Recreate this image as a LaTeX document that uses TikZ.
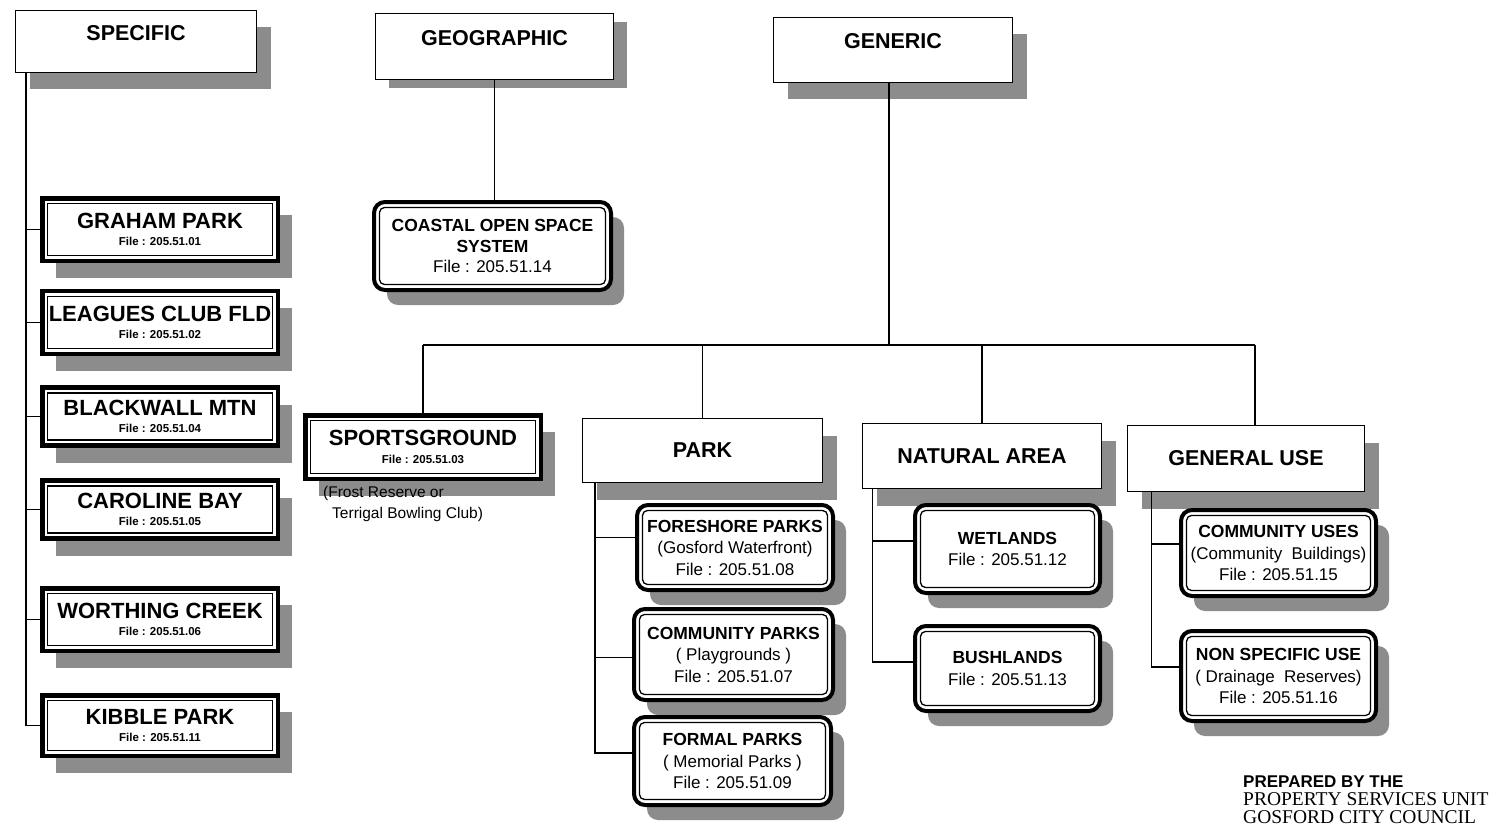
\documentclass[tikz,border=0pt]{standalone}
\usepackage{fontspec}
\usetikzlibrary{shadows,calc}
\newfontfamily\hv{Liberation Sans}
\newfontfamily\tms{Liberation Serif}
\definecolor{shadowgray}{gray}{0.55}
\tikzset{
  shd/.style={drop shadow={shadow xshift=14pt, shadow yshift=-17pt, fill=shadowgray, opacity=1}},
  shdgeo/.style={drop shadow={shadow xshift=13pt, shadow yshift=-9pt, fill=shadowgray, opacity=1}},
  shdr/.style={drop shadow={shadow xshift=13pt, shadow yshift=-15pt, fill=shadowgray, opacity=1}},
  hdr/.style={draw, line width=1.2pt, fill=white, inner sep=0pt,
    font=\hv\bfseries\fontsize{21.5}{24}\selectfont, text height=15.4pt, text depth=18pt},
  cat/.style={draw, line width=1.2pt, fill=white, inner sep=0pt, shd,
    font=\hv\bfseries\fontsize{21.5}{24}\selectfont},
  dbl/.style={draw, line width=4.5pt, fill=white, inner sep=0pt, align=center, shd,
    font=\hv\bfseries\fontsize{22}{17.5}\selectfont,
    path picture={\draw[line width=1.3pt]
      ([shift={(5.5pt,-5.5pt)}]path picture bounding box.north west) rectangle
      ([shift={(-5.5pt,5.5pt)}]path picture bounding box.south east);}},
  rnd/.style={draw, line width=4pt, rounded corners=11pt, fill=white, inner sep=0pt, align=center, shdr,
    font=\hv\fontsize{17}{21.5}\selectfont,
    path picture={\draw[line width=1.3pt, rounded corners=5pt]
      ([shift={(5.5pt,-5.5pt)}]path picture bounding box.north west) rectangle
      ([shift={(-5.5pt,5.5pt)}]path picture bounding box.south east);}},
  conn/.style={draw, line width=1.2pt},
}
\newcommand{\ttl}[1]{{\bfseries\fontsize{17.5}{21.5}\selectfont #1}}
\newcommand{\fileno}[1]{{\fontsize{11.5}{17.5}\selectfont File : #1}}
\begin{document}
\begin{tikzpicture}[x=1pt,y=-1pt]
\fill[white] (0,0) rectangle (1495,832);
\useasboundingbox (0,0) rectangle (1495,832);

% headers
\node[hdr, shd, minimum width=241pt, minimum height=62pt] (spec) at (136,41.5) {SPECIFIC};
\node[hdr, shdgeo, minimum width=238pt, minimum height=66pt] (geo) at (494.5,46.5) {GEOGRAPHIC};
\node[hdr, shd, minimum width=239pt, minimum height=65pt] (gen) at (893,50) {GENERIC};

% specific children
\node[dbl, minimum width=235.5pt, minimum height=62.5pt] (gp) at (160,229.5) {GRAHAM PARK\\\fileno{205.51.01}};
\node[dbl, minimum width=235.5pt, minimum height=63pt] (lc) at (160,322.5) {LEAGUES CLUB FLD\\\fileno{205.51.02}};
\node[dbl, minimum width=235.5pt, minimum height=58pt] (bw) at (160,416.5) {BLACKWALL MTN\\\fileno{205.51.04}};
\node[dbl, minimum width=235.5pt, minimum height=58pt] (cb) at (160,509.5) {CAROLINE BAY\\\fileno{205.51.05}};
\node[dbl, minimum width=235.5pt, minimum height=62.5pt] (wc) at (160,619.5) {WORTHING CREEK\\\fileno{205.51.06}};
\node[dbl, minimum width=235.5pt, minimum height=60.5pt] (kp) at (160,725.5) {KIBBLE PARK\\\fileno{205.51.11}};

% geographic child
\node[rnd, minimum width=237pt, minimum height=88pt] (coastal) at (492.5,246) {\ttl{COASTAL OPEN SPACE}\\[-1pt]\ttl{SYSTEM}\\[-1pt]File : 205.51.14};

% generic children
\node[dbl, minimum width=235.5pt, minimum height=63.5pt] (sg) at (423,447) {SPORTSGROUND\\\fileno{205.51.03}};
\node[cat, minimum width=240pt, minimum height=64pt] (park) at (702.5,450.5) {PARK};
\node[cat, minimum width=239pt, minimum height=65pt] (na) at (982,456) {NATURAL AREA};
\node[cat, minimum width=237pt, minimum height=66pt] (gu) at (1246,458.5) {GENERAL USE};

\node[anchor=north west, inner sep=0pt, align=left, font=\hv\fontsize{15.5}{21}\selectfont] (sgnote) at (323,486)
  {(Frost Reserve or\\\hspace*{9pt}Terrigal Bowling Club)};

% park children
\node[rnd, minimum width=196pt, minimum height=85pt] (fs) at (735,547.5) {\ttl{FORESHORE PARKS}\\(Gosford Waterfront)\\File : 205.51.08};
\node[rnd, minimum width=199pt, minimum height=91pt] (cp) at (733.5,654.5) {\ttl{COMMUNITY PARKS}\\( Playgrounds )\\File : 205.51.07};
\node[rnd, minimum width=197pt, minimum height=88pt] (fp) at (732.5,761) {\ttl{FORMAL PARKS}\\( Memorial Parks )\\File : 205.51.09};

% natural area children
\node[rnd, minimum width=185pt, minimum height=88pt] (wl) at (1007.5,549) {\ttl{WETLANDS}\\File : 205.51.12};
\node[rnd, minimum width=185pt, minimum height=85pt] (bl) at (1007.5,668.5) {\ttl{BUSHLANDS}\\File : 205.51.13};

% general use children
\node[rnd, minimum width=195pt, minimum height=86pt] (cu) at (1278.5,553) {\ttl{COMMUNITY USES}\\(Community\ \ Buildings)\\File : 205.51.15};
\node[rnd, minimum width=195pt, minimum height=90pt] (ns) at (1278.5,676) {\ttl{NON SPECIFIC USE}\\( Drainage\ \ Reserves)\\File : 205.51.16};

% credit
\node[anchor=north west, inner sep=0pt, align=left, font=\tms\fontsize{19.5}{18}\selectfont] (credit) at (1243,776)
  {{\hv\bfseries\fontsize{17}{18}\selectfont PREPARED BY THE}\\PROPERTY SERVICES UNIT\\GOSFORD CITY COUNCIL};

% connectors: specific
\draw[conn] ([xshift=11pt]spec.south west) coordinate (spt) |- (kp.west);
\foreach \n in {gp,lc,bw,cb,wc} \draw[conn] (spt |- \n.west) -- (\n.west);

% geographic
\draw[conn] (geo.south) -- (geo.south |- coastal.north);

% generic bus
\coordinate (busy) at (0,345);
\coordinate (gent) at ([xshift=-4pt]gen.south);
\coordinate (gut0) at ([xshift=9pt]gu.north);
\draw[conn] (gent) -- (gent |- busy);
\draw[conn] (sg.north |- busy) -- (gut0 |- busy);
\draw[conn] (sg.north |- busy) -- (sg.north);
\draw[conn] (park.north |- busy) -- (park.north);
\draw[conn] (na.north |- busy) -- (na.north);
\draw[conn] (gut0 |- busy) -- (gut0);

% park sub-tree
\coordinate (fsb) at ([yshift=10pt]fs.west);
\coordinate (cpb) at ([yshift=-3pt]cp.west);
\coordinate (fpb) at ([yshift=8pt]fp.west);
\draw[conn] ([xshift=13pt]park.south west) coordinate (pkt) |- (fpb);
\draw[conn] (pkt |- fsb) -- (fsb);
\draw[conn] (pkt |- cpb) -- (cpb);

% natural area sub-tree
\coordinate (wlb) at ([yshift=8pt]wl.west);
\coordinate (blb) at ([yshift=6.5pt]bl.west);
\draw[conn] ([xshift=10.5pt]na.south west) coordinate (nat) |- (blb);
\draw[conn] (nat |- wlb) -- (wlb);

% general use sub-tree
\coordinate (cub) at ([yshift=9pt]cu.west);
\coordinate (nsb) at ([yshift=9pt]ns.west);
\draw[conn] ([xshift=24.5pt]gu.south west) coordinate (gut) |- (nsb);
\draw[conn] (gut |- cub) -- (cub);
\end{tikzpicture}
\end{document}
